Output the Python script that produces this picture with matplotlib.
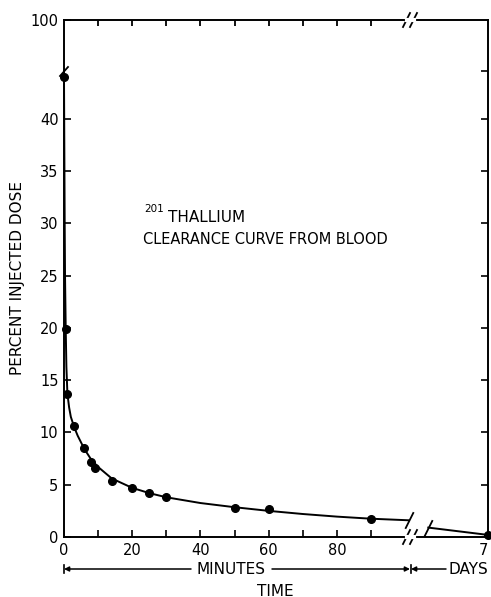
import numpy as np
import matplotlib
matplotlib.use("Agg")
import matplotlib.pyplot as plt
from matplotlib.lines import Line2D
from matplotlib.path import Path

# ---- data ----
pt_minutes = [0, 0.5, 1, 3, 6, 8, 9, 14, 20, 25, 30, 50, 60, 90]
pt_percent = [44.0, 19.9, 13.7, 10.6, 8.5, 7.2, 6.6, 5.4, 4.7, 4.2, 3.8, 2.8, 2.7, 1.7]

curve_minutes = [0, 0.1, 0.2, 0.3, 0.5, 0.7, 1, 1.5, 2, 3, 4, 6, 8, 10, 14, 20, 25, 30,
                 40, 50, 60, 70, 80, 90, 101]
curve_percent = [44.0, 37.0, 30.0, 25.0, 20.0, 16.3, 13.7, 12.4, 11.5, 10.5, 9.7, 8.4, 7.4,
                 6.7, 5.6, 4.7, 4.2, 3.8, 3.25, 2.85, 2.5, 2.2, 1.95, 1.75, 1.6]

pt_days = [7]
pt_days_percent = [0.2]
curve_days = [1.5, 7]
curve_days_percent = [0.9, 0.2]

x_major = [0, 20, 40, 60, 80]
x_minor = [10, 30, 50, 70, 90]
x_top_ticks = [10, 20, 30, 40, 50, 60, 70, 80, 90]
y_left_ticks = [0, 5, 10, 15, 20, 25, 30, 35, 40, 100]
y_right_ticks = [5, 10, 15, 20, 25, 30, 35, 40, 45]

# ---- broken y scale ----
B = 44.5
K = 4.97 / (100 - B)


def fwd(v):
    v = np.asarray(v, dtype=float)
    return np.where(v <= B, v, B + (v - B) * K)


def inv(u):
    u = np.asarray(u, dtype=float)
    return np.where(u <= B, u, B + (u - B) / K)


W, H = 491, 597
fig = plt.figure(figsize=(W / 100, H / 100), dpi=100)
plt.rcParams['font.family'] = ['DejaVu Sans']

L, R, T, Bo, XB = 64, 488, 20, 537, 412


def fx(x):
    return x / W


def fy(y):
    return 1 - y / H


ax_m = fig.add_axes([fx(L), fy(Bo), (XB - L) / W, (Bo - T) / H])
ax_d = fig.add_axes([fx(XB), fy(Bo), (R - XB) / W, (Bo - T) / H])

lw = 1.4
for ax in (ax_m, ax_d):
    ax.set_yscale('function', functions=(fwd, inv))
    ax.set_ylim(0, 100)
    ax.patch.set_alpha(0)
    for s in ax.spines.values():
        s.set_linewidth(lw)

ax_m.spines['right'].set_visible(False)
ax_d.spines['left'].set_visible(False)

ax_m.set_xlim(0, 102)
ax_d.set_xlim(0, 7)

slash = Path([(-0.3, -0.6), (0.3, 0.6)], [Path.MOVETO, Path.LINETO])

# curve and points (minutes)
ax_m.plot(curve_minutes, curve_percent, color='black', lw=1.4, clip_on=False, zorder=3)
ax_m.plot(pt_minutes, pt_percent, 'o', color='black', ms=5.5, clip_on=False, zorder=4)
ax_m.plot(curve_minutes[-1:], curve_percent[-1:], marker=slash, ms=12, color='black',
          mew=1.3, clip_on=False, zorder=4)

# curve and points (days)
ax_d.plot(curve_days, curve_days_percent, color='black', lw=1.4, clip_on=False, zorder=3)
ax_d.plot(pt_days, pt_days_percent, 'o', color='black', ms=5.5, clip_on=False, zorder=4)
ax_d.plot(curve_days[:1], curve_days_percent[:1], marker=slash, ms=12, color='black',
          mew=1.3, clip_on=False, zorder=4)

# ticks
ax_m.set_xticks(x_major)
ax_m.set_xticks(x_minor, minor=True)
ax_m.set_xticklabels([str(v) for v in x_major])
ax_m.set_yticks(y_left_ticks)
ax_m.set_yticklabels([str(v) for v in y_left_ticks])
ax_m.yaxis.set_minor_locator(matplotlib.ticker.NullLocator())
ax_m.tick_params(axis='x', which='both', direction='in', bottom=True,
                 length=5, width=1.2, labelsize=10.5, pad=4)
ax_m.tick_params(axis='y', which='both', direction='in', left=True, right=False,
                 length=5, width=1.2, labelsize=10.5, pad=4)

# top inward ticks of the minutes section (x in data, y in axes fraction)
ax_m.vlines(x_top_ticks, 1 - 6 / (Bo - T), 1, transform=ax_m.get_xaxis_transform(),
            colors='black', lw=1.3, clip_on=False, zorder=5)

ax_d.set_xticks([7])
ax_d.set_xticklabels(['7'])
ax_d.xaxis.set_minor_locator(matplotlib.ticker.NullLocator())
ax_d.set_yticks(y_right_ticks)
ax_d.yaxis.set_minor_locator(matplotlib.ticker.NullLocator())
ax_d.tick_params(axis='x', direction='in', length=0, labelsize=10.5, pad=4, top=False)
for lab in ax_d.get_xticklabels():
    lab.set_horizontalalignment('right')
ax_d.tick_params(axis='y', direction='in', left=False, right=True, labelleft=False,
                 length=5, width=1.2)


# ---- break marks (figure pixel coords, y from top) ----
def fline(xs, ys, lw_=1.3):
    fig.add_artist(Line2D([fx(x) for x in xs], [fy(y) for y in ys],
                          transform=fig.transFigure, color='black', lw=lw_))


def fwhite(x0, x1, y):
    fig.add_artist(Line2D([fx(x0), fx(x1)], [fy(y), fy(y)], transform=fig.transFigure,
                          color='white', lw=3, zorder=5))


# left spine single slash
fline([60, 68], [76, 67])
# bottom and top double slashes
for yc in (Bo, T):
    fwhite(407, 414, yc)
    fline([403, 410], [yc + 7, yc - 7])
    fline([410, 417], [yc + 7, yc - 7])

# ---- annotation text ----
fig.text(fx(144), fy(209), '201', fontsize=7.5, ha='left', va='center')
fig.text(fx(168), fy(218), 'THALLIUM', fontsize=11, ha='left', va='center')
fig.text(fx(143), fy(240), 'CLEARANCE CURVE FROM BLOOD', fontsize=10.5, ha='left',
         va='center')

# y label
fig.text(fx(18), fy(278), 'PERCENT INJECTED DOSE', fontsize=11, rotation=90,
         ha='center', va='center')

# ---- time bar ----
yb = 569
fig.text(fx(231), fy(yb), 'MINUTES', fontsize=11, ha='center', va='center')
fig.text(fx(468), fy(yb), 'DAYS', fontsize=11, ha='center', va='center')
fig.text(fx(275), fy(591), 'TIME', fontsize=11, ha='center', va='center')


def farrow(x_from, x_to, y):
    fig.add_artist(matplotlib.patches.FancyArrowPatch(
        (fx(x_from), fy(y)), (fx(x_to), fy(y)), transform=fig.transFigure,
        arrowstyle='-|>', mutation_scale=7, lw=1.1, color='black',
        shrinkA=0, shrinkB=0))


farrow(191, 64, yb)
farrow(272, 410, yb)
farrow(446, 411, yb)
fline([64, 64], [yb - 4, yb + 4], 1.2)
fline([410.5, 410.5], [yb - 4, yb + 4], 1.2)

fig.savefig('out.png', dpi=100)
